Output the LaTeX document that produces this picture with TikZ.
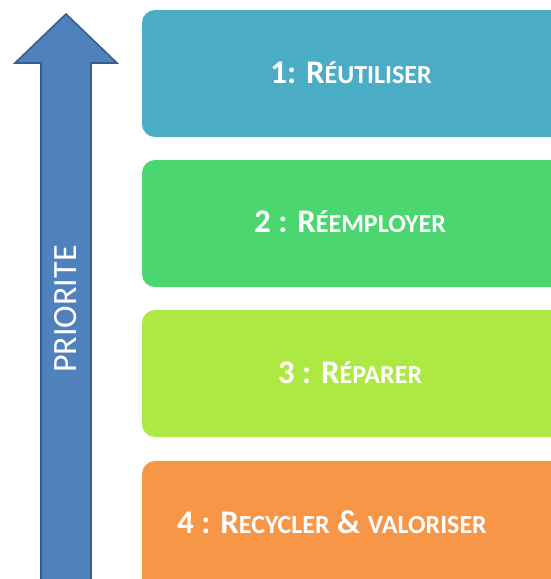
\documentclass[tikz,border=0pt]{standalone}
\usepackage{fontspec}
\setmainfont{Carlito}
\definecolor{arrowfill}{HTML}{4F81BD}
\definecolor{arrowdraw}{HTML}{385D8A}
\definecolor{cOne}{HTML}{4BACC6}
\definecolor{cTwo}{HTML}{4BD66F}
\definecolor{cThree}{HTML}{AEE843}
\definecolor{cFour}{HTML}{F79646}
\newcommand{\bigc}[1]{{\fontsize{33}{36}\selectfont #1}}
\newcommand{\smc}[1]{{\fontsize{26}{30}\selectfont #1}}
\tikzset{
  levelbox/.style={rounded corners=13pt, draw=none},
  leveltext/.style={text=white, font=\bfseries, anchor=center, inner sep=0pt},
}
\begin{document}
\begin{tikzpicture}[x=1pt,y=-1pt]
\useasboundingbox (0,0) rectangle (551,579);
\begin{scope}
\clip (0,0) rectangle (551,579);
\fill[levelbox, cOne]   (142,10)  rectangle (580,137);
\fill[levelbox, cTwo]   (142,160) rectangle (580,287);
\fill[levelbox, cThree] (142,310) rectangle (580,437);
\fill[levelbox, cFour]  (142,461) rectangle (580,610);
\draw[fill=arrowfill, draw=arrowdraw, line width=1.6pt, line join=miter]
  (66,14) -- (117,63) -- (91,63) -- (91,600) -- (41,600) -- (41,63) -- (15,63) -- cycle;
\end{scope}
\node[leveltext] (t1) at (351,73)  {\bigc{1: R}\smc{ÉUTILISER}};
\node[leveltext] (t2) at (350,222) {\bigc{2 : R}\smc{ÉEMPLOYER}};
\node[leveltext] (t3) at (350,373) {\bigc{3 : R}\smc{ÉPARER}};
\node[leveltext] (t4) at (332,522) {\bigc{4 : R}\smc{ECYCLER}\bigc{ \& }\smc{VALORISER}};
\node[text=white, rotate=90, inner sep=0pt, font=\fontsize{34}{36}\selectfont] (prio) at (66,309) {PRIORITE};
\end{tikzpicture}
\end{document}
